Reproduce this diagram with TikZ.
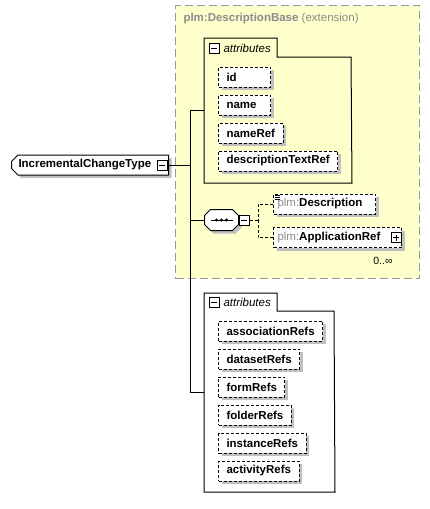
\documentclass[tikz,border=0pt]{standalone}
\usepackage{fontspec}
\setmainfont{Liberation Sans}
\usetikzlibrary{shapes.misc,shadows}
\definecolor{extfill}{RGB}{255,255,204}
\definecolor{extline}{RGB}{150,150,150}
\definecolor{shgray}{RGB}{192,192,192}
\definecolor{pfx}{RGB}{140,140,140}
\newcommand{\dfont}{\fontsize{11.5}{13}\selectfont}
\tikzset{
  sh/.style={drop shadow={shadow xshift=3pt,shadow yshift=-3pt,fill=shgray,opacity=1}},
  attr/.style={draw,dash pattern=on 3pt off 2pt,fill=white,sh,anchor=west,
    minimum height=20pt,inner xsep=8pt,inner ysep=0pt,font=\dfont\bfseries},
  elem/.style={attr,inner xsep=4pt},
  grp/.style={anchor=north west,inner sep=0pt},
  tog/.style={draw,solid,fill=white,minimum size=10pt,inner sep=0pt},
  minus/.style={tog,path picture={
    \draw ([xshift=-3pt]path picture bounding box.center) -- ([xshift=3pt]path picture bounding box.center);}},
  plus/.style={tog,path picture={
    \draw ([xshift=-3pt]path picture bounding box.center) -- ([xshift=3pt]path picture bounding box.center);
    \draw ([yshift=-3pt]path picture bounding box.center) -- ([yshift=3pt]path picture bounding box.center);}},
  tabtext/.style={anchor=west,inner sep=0pt,font=\dfont\itshape},
}
\begin{document}
\begin{tikzpicture}[x=1pt,y=-1pt,line width=1pt]
  \useasboundingbox (0,0) rectangle (429,509);
  \node[draw=extline,fill=extfill,dash pattern=on 8pt off 4pt,anchor=north west,
    minimum width=244pt,minimum height=273pt,inner sep=0pt] (ext) at (175,5) {};
  \node[anchor=west,inner sep=0pt,text=pfx,font=\dfont] (exttitle) at (183,19)
    {\textbf{plm:DescriptionBase} (extension)};

  \coordinate (trunk) at (190,165);
  \coordinate (chfork) at (258,220);

  \node[chamfered rectangle,chamfered rectangle corners={north west,south west},
    chamfered rectangle xsep=3pt,draw,fill=white,sh,anchor=west,text width=143pt,
    minimum height=20pt,inner xsep=4pt,inner ysep=0pt,font=\dfont\bfseries]
    (ict) at (11,165) {IncrementalChangeType};
  \node[minus] (icttog) at (162,165) {};

  \node[grp,minimum width=147pt,minimum height=144pt] (grpA) at (204,38) {};
  \draw (grpA.north west) -- (277,38) -- (277,57) -- (351,57)
    -- (grpA.south east) -- (grpA.south west) -- cycle;
  \node[minus] (grpAtog) at (214,48) {};
  \node[tabtext] (grpAlbl) at (223,48) {attributes};
  \node[attr,text width=36pt] (id) at (218,77) {id};
  \node[attr,text width=36pt] (name) at (218,105) {name};
  \node[attr] (nameRef) at (218,133) {nameRef};
  \node[attr] (descriptionTextRef) at (218,161) {descriptionTextRef};

  \node[minimum width=33pt,minimum height=20pt,inner sep=0pt] (seq) at (221.5,220) {};
  \draw[fill=white,sh] ([xshift=6pt]seq.north west) -- ([xshift=-6pt]seq.north east)
    -- ([yshift=-6pt]seq.north east) -- ([yshift=6pt]seq.south east)
    -- ([xshift=-6pt]seq.south east) -- ([xshift=6pt]seq.south west)
    -- ([yshift=6pt]seq.south west) -- ([yshift=-6pt]seq.north west) -- cycle;
  \draw ([xshift=-11pt]seq.center) -- ([xshift=11pt]seq.center);
  \fill ([xshift=-5pt]seq.center) circle (1.6pt)
    (seq.center) circle (1.6pt)
    ([xshift=5pt]seq.center) circle (1.6pt);
  \node[minus] (seqtog) at (244,220) {};

  \node[elem,text width=94pt] (desc) at (273,204)
    {\textcolor{pfx}{\mdseries plm:}Description};
  \foreach \d in {1.5,3.5,5.5}
    \draw[line width=0.6pt] ([xshift=1.5pt,yshift=-\d pt]desc.north west) -- ++(5,0);
  \node[elem,text width=120pt] (appref) at (273,237.5)
    {\textcolor{pfx}{\mdseries plm:}ApplicationRef};
  \node[plus] (appreftog) at (396,237.5) {};
  \node[anchor=east,inner sep=0pt,font=\fontsize{10.5}{12}\selectfont] (apprefmult) at (393,261) {0..∞};

  \node[grp,minimum width=130pt,minimum height=198pt] (grpB) at (204,293) {};
  \draw (grpB.north west) -- (277,293) -- (277,311) -- (334,311)
    -- (grpB.south east) -- (grpB.south west) -- cycle;
  \node[minus] (grpBtog) at (214,302) {};
  \node[tabtext] (grpBlbl) at (223,302) {attributes};
  \node[attr] (associationRefs) at (218,331) {associationRefs};
  \node[attr] (datasetRefs) at (218,359) {datasetRefs};
  \node[attr] (formRefs) at (218,387) {formRefs};
  \node[attr] (folderRefs) at (218,415) {folderRefs};
  \node[attr] (instanceRefs) at (218,443) {instanceRefs};
  \node[attr] (activityRefs) at (218,471) {activityRefs};

  \begin{scope}[-]
    \draw (icttog.east) -- (trunk);
    \draw (grpA.west) -| (trunk);
    \draw (seq.west) -| (trunk);
    \draw (grpB.west) -| (trunk);
  \end{scope}
  \begin{scope}[dash pattern=on 3pt off 2pt]
    \draw (seqtog.east) -- (chfork);
    \draw (desc.west) -| (chfork);
    \draw (appref.west) -| (chfork);
  \end{scope}
\end{tikzpicture}
\end{document}
